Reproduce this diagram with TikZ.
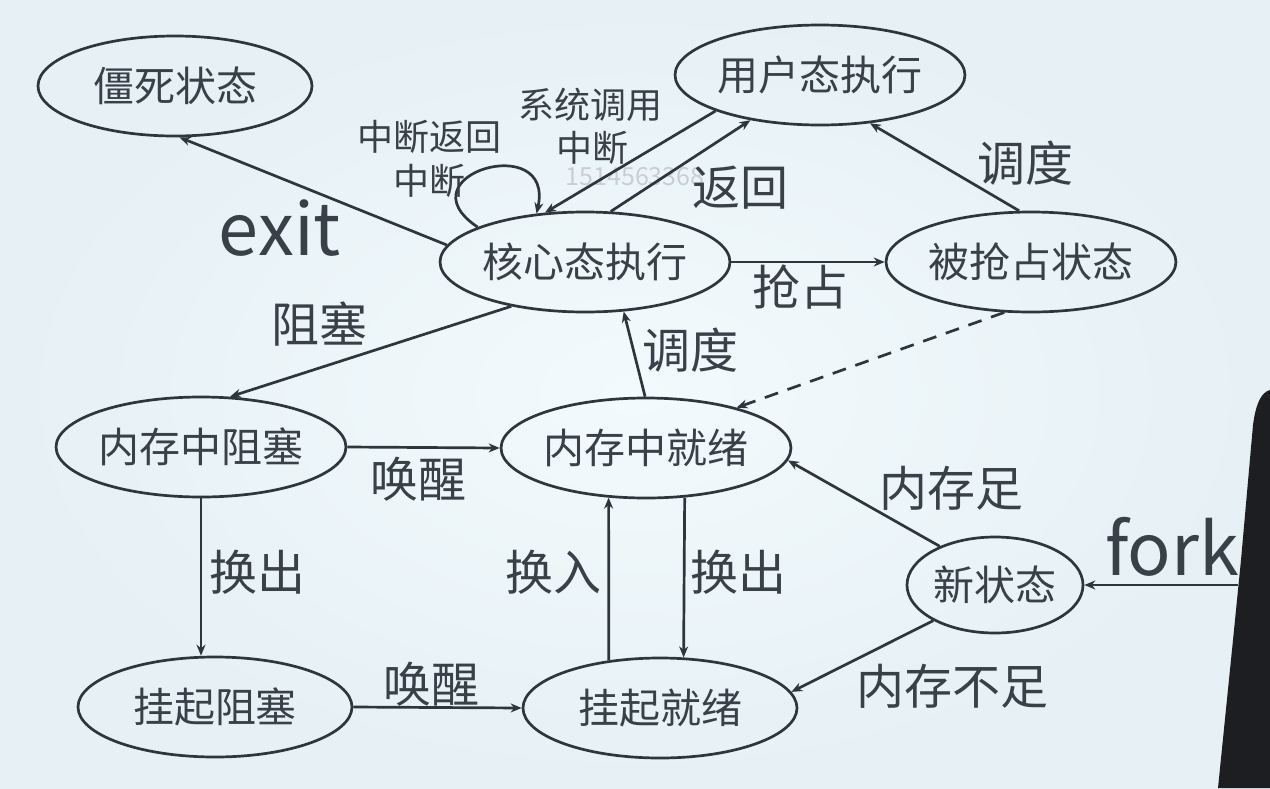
\documentclass[tikz,border=0pt]{standalone}
\usepackage{fontspec}
\setmainfont{Noto Sans CJK SC}
\usetikzlibrary{arrows.meta,shapes.geometric}
\definecolor{ink}{HTML}{2F353D}
\definecolor{txt}{HTML}{3A4048}
\definecolor{bgin}{HTML}{F3FAFD}
\definecolor{bgout}{HTML}{E6F0F5}
\definecolor{wm}{HTML}{C9CED3}
\definecolor{person}{HTML}{1C1E22}
\begin{document}
\begin{tikzpicture}[x=0.5pt,y=-0.5pt,
  st/.style={ellipse,draw=ink,line width=1.35pt,minimum width=137pt,minimum height=50pt,inner sep=0pt,font=\fontsize{20.5}{24}\selectfont,text=txt},
  lbl/.style={font=\fontsize{24}{28}\selectfont,text=txt,inner sep=0pt},
  sml/.style={font=\fontsize{18}{22}\selectfont,text=txt,inner sep=0pt},
  eng/.style={font=\fontsize{36}{40}\selectfont,text=txt,inner sep=0pt},
  arr/.style={draw=ink,line width=1.35pt,-{Stealth[length=5.5pt,width=4.5pt]}},
  dsh/.style={arr,dash pattern=on 7pt off 5pt}]
\useasboundingbox (0,0) rectangle (1270,788);
\shade[inner color=bgin,outer color=bgout] (0,0) rectangle (1270,788);
% watermark
\node[font=\fontsize{12.5}{14}\selectfont,text=wm,inner sep=0pt] (wmark) at (635,177) {1514563368};
% states
\node[st] (zombie) at (175,86) {僵死状态};
\node[st] (user) at (820,75) {用户态执行};
\node[st] (kernel) at (585,262) {核心态执行};
\node[st] (preempt) at (1031,262) {被抢占状态};
\node[st] (block) at (201,447) {内存中阻塞};
\node[st] (ready) at (646,448) {内存中就绪};
\node[st,minimum width=88pt,minimum height=48pt] (new) at (995,585) {新状态};
\node[st] (sblock) at (215,707) {挂起阻塞};
\node[st] (sready) at (660,708) {挂起就绪};
\coordinate (forkstart) at (1238,585);
% transitions
\draw[arr] (kernel.173) -- (zombie.275);
\draw[arr] (kernel.162) .. controls (400,175) and (555,130) .. (kernel.135);
\draw[arr] (user.199) -- (kernel.129);
\draw[arr] (kernel.63) -- (user.213);
\draw[arr] (kernel.east) -- (preempt.west);
\draw[arr] (preempt.103) -- (user.316);
\draw[arr] (kernel.211) -- (block.60);
\draw[arr] (ready.91) -- (kernel.308);
\draw[dsh] (preempt.242) -- (ready.24);
\draw[arr] (block.east) -- (ready.west);
\draw[arr] (block.south) -- (block.south |- sblock.north);
\draw[arr] (sready.137) -- (ready.233);
\draw[arr] (ready.308) -- (sready.65);
\draw[arr] (sblock.east) -- (sready.west);
\draw[arr] (new.145) -- (ready.355);
\draw[arr] (new.210) -- (sready.7);
\draw[arr] (forkstart) -- (new.east);
% labels
\node[eng] (lexit) at (280,228) {exit};
\node[eng] (lfork) at (1172,547) {fork};
\node[sml] (lirr1) at (429,137) {中断返回};
\node[sml] (lirr2) at (429,181) {中断};
\node[sml] (lsys1) at (590,105) {系统调用};
\node[sml] (lsys2) at (592,148) {中断};
\node[lbl] (lret) at (740,188) {返回};
\node[lbl] (lpre) at (800,287) {抢占};
\node[lbl] (lsch1) at (1025,163) {调度};
\node[lbl] (lblk) at (319,324) {阻塞};
\node[lbl] (lsch2) at (690,350) {调度};
\node[lbl] (lwake1) at (418,479) {唤醒};
\node[lbl] (lout1) at (257,572) {换出};
\node[lbl] (lin) at (553,572) {换入};
\node[lbl] (lout2) at (738,572) {换出};
\node[lbl] (lmem1) at (951,488) {内存足};
\node[lbl] (lmem2) at (952,686) {内存不足};
\node[lbl] (lwake2) at (431,684) {唤醒};
% presenter silhouette at right edge
\fill[person] (1270,390) .. controls (1262,392) and (1256,402) .. (1253,425) -- (1241,560) -- (1233,640) -- (1218,788) -- (1270,788) -- cycle;
\end{tikzpicture}
\end{document}
